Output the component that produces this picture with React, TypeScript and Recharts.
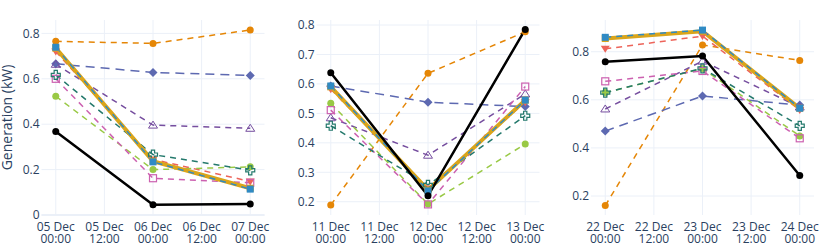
import { LineChart, Line, XAxis, YAxis, CartesianGrid, ReferenceLine } from 'recharts';

const FONT = '"Open Sans", verdana, arial, sans-serif';
const INK = '#2a3f5f';
const GRID = '#ebf0f8';

// three 2-day windows, one reading per day at 00:00
const WINDOW_1 = ['2023-12-05', '2023-12-06', '2023-12-07'];
const WINDOW_2 = ['2023-12-11', '2023-12-12', '2023-12-13'];
const WINDOW_3 = ['2023-12-22', '2023-12-23', '2023-12-24'];

// values per series: window 1 (3), window 2 (3), window 3 (3)
const SYS_A = [0.765, 0.756, 0.815, 0.189, 0.636, 0.777, 0.16, 0.828, 0.764];
const SYS_B = [0.666, 0.628, 0.615, 0.593, 0.538, 0.523, 0.47, 0.616, 0.578];
const SYS_C = [0.664, 0.396, 0.382, 0.485, 0.358, 0.566, 0.562, 0.761, 0.57];
const SYS_D = [0.72, 0.245, 0.148, 0.582, 0.245, 0.538, 0.812, 0.865, 0.558];
const SYS_E = [0.523, 0.2, 0.212, 0.534, 0.192, 0.396, 0.63, 0.73, 0.45];
const SYS_F = [0.6, 0.162, 0.142, 0.511, 0.191, 0.591, 0.677, 0.72, 0.44];
const SYS_G = [0.617, 0.266, 0.197, 0.458, 0.257, 0.492, 0.63, 0.731, 0.492];
const MEAN = [0.735, 0.237, 0.118, 0.59, 0.24, 0.545, 0.855, 0.885, 0.565];
const MEDIAN = [0.739, 0.234, 0.114, 0.593, 0.237, 0.545, 0.86, 0.89, 0.565];
const ACTUAL = [0.368, 0.045, 0.048, 0.638, 0.22, 0.785, 0.758, 0.782, 0.285];

const Y_TICKS_1 = [0, 0.2, 0.4, 0.6, 0.8];
const Y_TICKS_2 = [0.2, 0.3, 0.4, 0.5, 0.6, 0.7, 0.8];
const Y_TICKS_3 = [0.2, 0.4, 0.6, 0.8];

type Shape = 'circle' | 'diamond' | 'triangle-open' | 'triangle-down' | 'square-open' | 'cross-open' | 'square';

const SERIES: { key: string; values: number[]; color: string; width: number; dash?: string; shape: Shape }[] = [
  { key: 'a', values: SYS_A, color: 'rgb(229,134,6)', width: 1.5, dash: '6 5', shape: 'circle' },
  { key: 'b', values: SYS_B, color: 'rgb(93,105,177)', width: 1.5, dash: '9 6', shape: 'diamond' },
  { key: 'c', values: SYS_C, color: 'rgb(118,78,159)', width: 1.5, dash: '6 5', shape: 'triangle-open' },
  { key: 'd', values: SYS_D, color: 'rgb(237,100,90)', width: 1.5, dash: '6 5', shape: 'triangle-down' },
  { key: 'e', values: SYS_E, color: 'rgb(153,201,69)', width: 1.5, dash: '6 5', shape: 'circle' },
  { key: 'f', values: SYS_F, color: 'rgb(204,97,176)', width: 1.5, dash: '6 5', shape: 'square-open' },
  { key: 'g', values: SYS_G, color: 'rgb(36,121,108)', width: 1.5, dash: '6 5', shape: 'cross-open' },
  { key: 'mean', values: MEAN, color: 'rgb(218,165,27)', width: 4, shape: 'square' },
  { key: 'median', values: MEDIAN, color: 'rgb(47,138,196)', width: 1.5, dash: '6 5', shape: 'square' },
  { key: 'actual', values: ACTUAL, color: '#000000', width: 2.5, shape: 'circle' },
];

const HOUR = 3600 * 1000;
const PAD = 3.52 * HOUR;

function buildRows(dates: string[], offset: number) {
  return dates.map((d, i) => {
    const row: Record<string, number> = { t: Date.parse(d + 'T00:00:00Z') };
    SERIES.forEach((s) => {
      row[s.key] = s.values[offset + i];
    });
    return row;
  });
}

function marker(shape: Shape, color: string) {
  return (props: any) => {
    const { cx, cy, index } = props;
    const k = `m-${index}`;
    if (cx == null || cy == null) return <g key={k} />;
    switch (shape) {
      case 'circle':
        return <circle key={k} cx={cx} cy={cy} r={3.5} fill={color} />;
      case 'diamond':
        return <polygon key={k} points={`${cx},${cy - 4.5} ${cx + 4.5},${cy} ${cx},${cy + 4.5} ${cx - 4.5},${cy}`} fill={color} />;
      case 'triangle-open':
        return <polygon key={k} points={`${cx},${cy - 4} ${cx + 4.5},${cy + 3} ${cx - 4.5},${cy + 3}`} fill="none" stroke={color} strokeWidth={1} />;
      case 'triangle-down':
        return <polygon key={k} points={`${cx - 4.5},${cy - 3} ${cx + 4.5},${cy - 3} ${cx},${cy + 4}`} fill={color} />;
      case 'square-open':
        return <rect key={k} x={cx - 3.5} y={cy - 3.5} width={7} height={7} fill="none" stroke={color} strokeWidth={1.2} />;
      case 'square':
        return <rect key={k} x={cx - 3.5} y={cy - 3.5} width={7} height={7} fill={color} />;
      case 'cross-open': {
        const a = 4.5;
        const b = 1.6;
        const pts = [
          [-b, -a], [b, -a], [b, -b], [a, -b], [a, b], [b, b],
          [b, a], [-b, a], [-b, b], [-a, b], [-a, -b], [-b, -b],
        ].map(([x, y]) => `${cx + x},${cy + y}`).join(' ');
        return <polygon key={k} points={pts} fill="none" stroke={color} strokeWidth={1.2} />;
      }
    }
    return <g key={k} />;
  };
}

const DateTick = (props: any) => {
  const { x, payload } = props;
  const d = new Date(payload.value);
  const day = String(d.getUTCDate()).padStart(2, '0');
  const hh = String(d.getUTCHours()).padStart(2, '0');
  return (
    <g>
      <text x={x} y={230.5} textAnchor="middle" fill={INK} fontSize={12} fontFamily={FONT}>{day} Dec</text>
      <text x={x} y={243.2} textAnchor="middle" fill={INK} fontSize={12} fontFamily={FONT}>{hh}:00</text>
    </g>
  );
};

function Panel({ dates, offset, left, axisWidth, yDomain, yTicks, zeroLine }: {
  dates: string[];
  offset: number;
  left: number;
  axisWidth: number;
  yDomain: [number, number];
  yTicks: number[];
  zeroLine?: boolean;
}) {
  const rows = buildRows(dates, offset);
  const t0 = rows[0].t;
  const t2 = rows[rows.length - 1].t;
  const xTicks = [0, 1, 2, 3, 4].map((i) => t0 + i * 12 * HOUR);
  const chartWidth = 280;
  return (
    <div style={{ position: 'absolute', left, top: 0 }}>
      <LineChart width={chartWidth} height={249} data={rows} margin={{ top: 20, right: chartWidth - axisWidth - 223, bottom: 4, left: 0 }}>
        <CartesianGrid stroke={GRID} strokeWidth={1} horizontalValues={yTicks} verticalValues={xTicks} />
        {zeroLine && <ReferenceLine y={0} stroke={GRID} strokeWidth={2} />}
        <XAxis
          dataKey="t"
          type="number"
          domain={[t0 - PAD, t2 + PAD]}
          ticks={xTicks}
          interval={0}
          height={30}
          axisLine={false}
          tickLine={false}
          tick={<DateTick />}
          allowDataOverflow
        />
        <YAxis
          type="number"
          domain={yDomain}
          ticks={yTicks}
          interval={0}
          width={axisWidth}
          axisLine={false}
          tickLine={false}
          tickSize={0}
          tickMargin={2}
          allowDataOverflow
          tick={{ fill: INK, fontSize: 12, fontFamily: FONT }}
          tickFormatter={(v: number) => (v === 0 ? '0' : v.toFixed(1))}
        />
        {SERIES.map((s) => (
          <Line
            key={s.key}
            dataKey={s.key}
            type="linear"
            stroke={s.color}
            strokeWidth={s.width}
            strokeDasharray={s.dash}
            dot={marker(s.shape, s.color)}
            activeDot={false}
            isAnimationActive={false}
          />
        ))}
      </LineChart>
    </div>
  );
}

export default function App() {
  return (
    <div style={{ position: 'absolute', left: 0, top: 0, width: 830, height: 249, background: '#fff', fontFamily: FONT, overflow: 'hidden' }}>
      <svg width={20} height={249} style={{ position: 'absolute', left: 0, top: 0 }}>
        <text
          x={12}
          y={117.5}
          transform="rotate(-90 12 117.5)"
          textAnchor="middle"
          fontSize={14}
          fill={INK}
          fontFamily={FONT}
        >
          Generation (kW)
        </text>
      </svg>
      <Panel dates={WINDOW_1} offset={0} left={0} axisWidth={41.5} yDomain={[0, 0.859]} yTicks={Y_TICKS_1} zeroLine />
      <Panel dates={WINDOW_2} offset={3} left={275} axisWidth={41.5} yDomain={[0.155, 0.817]} yTicks={Y_TICKS_2} />
      <Panel dates={WINDOW_3} offset={6} left={550} axisWidth={41} yDomain={[0.121, 0.932]} yTicks={Y_TICKS_3} />
    </div>
  );
}
